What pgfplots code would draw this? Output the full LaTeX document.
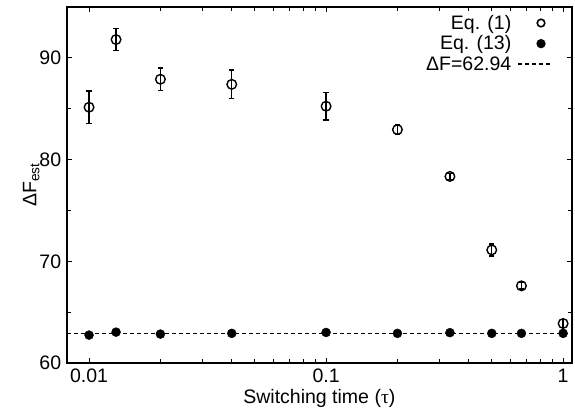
\documentclass[border=0pt]{standalone}
\usepackage{fontspec}
\setmainfont{Liberation Sans}
\newfontfamily\seriff{Liberation Serif}
\usepackage{pgfplots}
\pgfplotsset{compat=1.18}
\pgfplotsset{
  dashleg/.style={legend image code/.code={\path (0pt,0pt) (37pt,0pt); \draw[##1] (4pt,0pt) -- (37pt,0pt);}},
  markleg/.style={legend image code/.code={\path (0pt,0pt) (37pt,0pt); \draw[##1, mark size=3.8pt, line width=1.5pt, mark options={line width=1.6pt}] plot coordinates {(27pt,0pt)};}},
}
\begin{document}
\begin{tikzpicture}
\begin{semilogxaxis}[
  scale only axis,
  width=505pt, height=356pt,
  xmin=0.00805, xmax=1.09,
  ymin=60, ymax=95,
  xtick={0.01,0.1,1},
  xticklabels={0.01,0.1,1},
  ytick={60,70,80,90},
  minor ytick={65,75,85,95},
  tick align=inside,
  major tick length=5pt,
  minor tick length=4pt,
  every tick/.style={line width=1pt,black},
  axis line style={line width=1.6pt},
  /pgf/number format/assume math mode=true,
  tick label style={font=\fontsize{19.5}{23}\selectfont},
  xticklabel style={yshift=-2pt},
  yticklabel style={xshift=-2pt},
  label style={font=\fontsize{19.5}{23}\selectfont},
  xlabel={Switching time ({\seriff τ})},
  ylabel={ΔF\textsubscript{est}},
  xlabel style={yshift=0pt},
  ylabel style={yshift=-7pt},
  legend style={draw=none, fill=none, at={(1,1)}, anchor=north east, xshift=-17pt, yshift=-4pt,
    font=\fontsize{19.5}{23}\selectfont, row sep=1pt, legend cell align=right},
  legend plot pos=right,
]
\addplot[only marks, mark=o, mark size=4.8pt, line width=1.4pt, markleg,
  error bars/.cd, y dir=both, y explicit,
  error bar style={line width=1.4pt}, error mark options={rotate=90, mark size=2.6pt, line width=1.4pt}]
  coordinates {
  (0.01,85.15) +- (0,1.6)
  (0.013,91.8) +- (0,1.1)
  (0.02,87.9) +- (0,1.1)
  (0.04,87.4) +- (0,1.4)
  (0.1,85.25) +- (0,1.35)
  (0.2,82.95) +- (0,0.5)
  (0.333,78.35) +- (0,0.3)
  (0.5,71.13) +- (0,0.6)
  (0.667,67.6) +- (0,0.3)
  (1.0,63.9) +- (0,0.4)
  };
\addlegendentry{Eq. (1)}
\addplot[only marks, mark=*, mark size=4.5pt, black, markleg]
  coordinates {
  (0.01,62.76) (0.013,63.05) (0.02,62.86) (0.04,62.93) (0.1,63.02)
  (0.2,62.93) (0.333,63.0) (0.5,62.93) (0.667,62.93) (1.0,62.93)
  };
\addlegendentry{Eq. (13)}
\addplot[black, line width=1.5pt, dash pattern=on 4pt off 3pt, dashleg]
  coordinates {(0.00805,62.94) (1.09,62.94)};
\addlegendentry{ΔF=62.94}
\end{semilogxaxis}
\path ([shift={(-66.7pt,-50pt)}]current axis.south west) rectangle ([shift={(3pt,7pt)}]current axis.north east);
\end{tikzpicture}
\end{document}
